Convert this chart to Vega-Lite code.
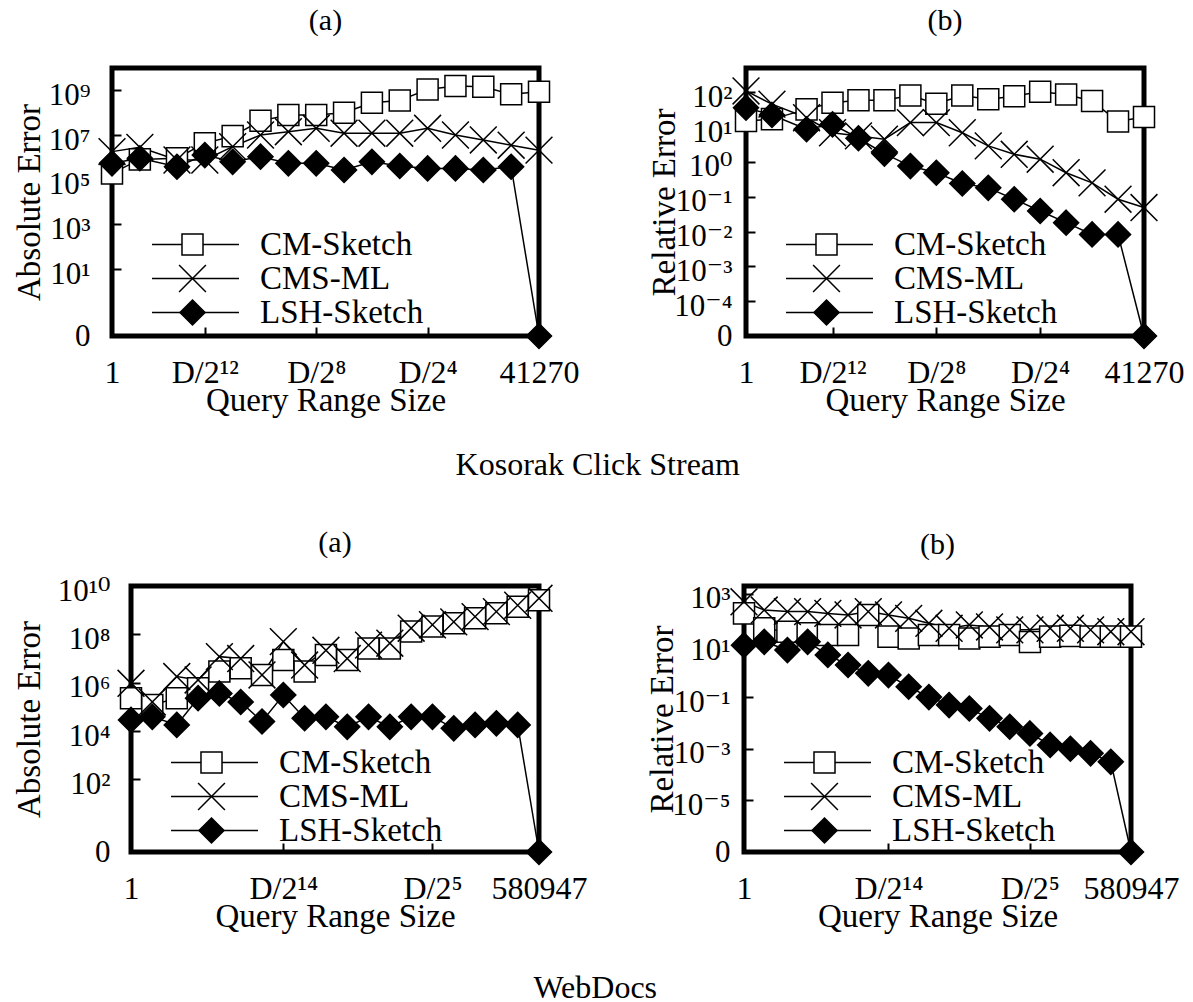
{
  "$schema": "https://vega.github.io/schema/vega-lite/v6.json",
  "background": "white",
  "padding": {"left": 9, "top": 3, "right": 5, "bottom": 0},
  "spacing": 44,
  "resolve": {"scale": {"color": "independent", "shape": "independent", "fill": "independent"}, "legend": {"color": "independent", "shape": "independent", "fill": "independent"}},
  "config": {
    "font": "Liberation Serif",
    "view": {"stroke": "black", "strokeWidth": 5},
    "axis": {
      "labelFont": "Liberation Serif, DejaVu Serif", "labelColor": "black",
      "titleFont": "Liberation Serif", "titleFontSize": 33, "titleFontWeight": "normal", "titleColor": "black",
      "tickColor": "black", "tickWidth": 2, "tickSize": -9,
      "domain": false, "grid": false, "labelFlush": false, "labelOverlap": false, "labelBound": false
    },
    "axisX": {"labelFontSize": 32, "labelBaseline": "alphabetic", "labelPadding": 55, "titleY": 74, "titleBaseline": "alphabetic"},
    "axisY": {"labelFontSize": 31, "labelBaseline": "middle", "titleAngle": -90, "titleBaseline": "alphabetic", "titleAlign": "center"},
    "legend": {"orient": "none", "direction": "vertical", "labelFont": "Liberation Serif", "labelFontSize": 33, "labelColor": "black", "labelLimit": 0, "rowPadding": 0, "padding": 0, "symbolStrokeWidth": 1.5},
    "title": {"font": "Liberation Serif", "fontSize": 30, "fontWeight": "normal", "color": "black", "anchor": "middle"}
  },
  "datasets": {
    "kosorakAbs": [
      {"method": "CM-Sketch", "size": 1, "error": 1.9e5},
      {"method": "CM-Sketch", "size": 2, "error": 8.1e5},
      {"method": "CM-Sketch", "size": 5.038, "error": 9.1e5},
      {"method": "CM-Sketch", "size": 10.076, "error": 4.3e6},
      {"method": "CM-Sketch", "size": 20.151, "error": 8.9e6},
      {"method": "CM-Sketch", "size": 40.303, "error": 4.3e7},
      {"method": "CM-Sketch", "size": 80.605, "error": 7.9e7},
      {"method": "CM-Sketch", "size": 161.21, "error": 7.9e7},
      {"method": "CM-Sketch", "size": 322.42, "error": 1.0e8},
      {"method": "CM-Sketch", "size": 644.84, "error": 2.8e8},
      {"method": "CM-Sketch", "size": 1289.69, "error": 3.5e8},
      {"method": "CM-Sketch", "size": 2579.38, "error": 1.1e9},
      {"method": "CM-Sketch", "size": 5158.75, "error": 1.55e9},
      {"method": "CM-Sketch", "size": 10317.5, "error": 1.45e9},
      {"method": "CM-Sketch", "size": 20635, "error": 6.6e8},
      {"method": "CM-Sketch", "size": 41270, "error": 8.7e8},
      {"method": "CMS-ML", "size": 1, "error": 1.8e6},
      {"method": "CMS-ML", "size": 2, "error": 2.8e6},
      {"method": "CMS-ML", "size": 5.038, "error": 7.6e5},
      {"method": "CMS-ML", "size": 10.076, "error": 7.6e5},
      {"method": "CMS-ML", "size": 20.151, "error": 3.0e6},
      {"method": "CMS-ML", "size": 40.303, "error": 1.0e7},
      {"method": "CMS-ML", "size": 80.605, "error": 1.4e7},
      {"method": "CMS-ML", "size": 161.21, "error": 2.0e7},
      {"method": "CMS-ML", "size": 322.42, "error": 1.2e7},
      {"method": "CMS-ML", "size": 644.84, "error": 1.2e7},
      {"method": "CMS-ML", "size": 1289.69, "error": 1.2e7},
      {"method": "CMS-ML", "size": 2579.38, "error": 2.0e7},
      {"method": "CMS-ML", "size": 5158.75, "error": 1.0e7},
      {"method": "CMS-ML", "size": 10317.5, "error": 6.0e6},
      {"method": "CMS-ML", "size": 20635, "error": 3.5e6},
      {"method": "CMS-ML", "size": 41270, "error": 2.1e6},
      {"method": "LSH-Sketch", "size": 1, "error": 5.4e5},
      {"method": "LSH-Sketch", "size": 2, "error": 9.1e5},
      {"method": "LSH-Sketch", "size": 5.038, "error": 3.8e5},
      {"method": "LSH-Sketch", "size": 10.076, "error": 1.26e6},
      {"method": "LSH-Sketch", "size": 20.151, "error": 6.3e5},
      {"method": "LSH-Sketch", "size": 40.303, "error": 1.07e6},
      {"method": "LSH-Sketch", "size": 80.605, "error": 5.4e5},
      {"method": "LSH-Sketch", "size": 161.21, "error": 5.4e5},
      {"method": "LSH-Sketch", "size": 322.42, "error": 2.7e5},
      {"method": "LSH-Sketch", "size": 644.84, "error": 6.3e5},
      {"method": "LSH-Sketch", "size": 1289.69, "error": 4.1e5},
      {"method": "LSH-Sketch", "size": 2579.38, "error": 3.2e5},
      {"method": "LSH-Sketch", "size": 5158.75, "error": 3.2e5},
      {"method": "LSH-Sketch", "size": 10317.5, "error": 2.7e5},
      {"method": "LSH-Sketch", "size": 20635, "error": 3.8e5},
      {"method": "LSH-Sketch", "size": 41270, "error": 0}
    ],
    "kosorakRel": [
      {"method": "CM-Sketch", "size": 1, "error": 15.1},
      {"method": "CM-Sketch", "size": 2, "error": 17.0},
      {"method": "CM-Sketch", "size": 5.038, "error": 32.4},
      {"method": "CM-Sketch", "size": 10.076, "error": 50.1},
      {"method": "CM-Sketch", "size": 20.151, "error": 58.9},
      {"method": "CM-Sketch", "size": 40.303, "error": 58.9},
      {"method": "CM-Sketch", "size": 80.605, "error": 81.3},
      {"method": "CM-Sketch", "size": 161.21, "error": 46.8},
      {"method": "CM-Sketch", "size": 322.42, "error": 81.3},
      {"method": "CM-Sketch", "size": 644.84, "error": 63.1},
      {"method": "CM-Sketch", "size": 1289.69, "error": 77.6},
      {"method": "CM-Sketch", "size": 2579.38, "error": 104.7},
      {"method": "CM-Sketch", "size": 5158.75, "error": 87.1},
      {"method": "CM-Sketch", "size": 10317.5, "error": 56.2},
      {"method": "CM-Sketch", "size": 20635, "error": 14.5},
      {"method": "CM-Sketch", "size": 41270, "error": 19.5},
      {"method": "CMS-ML", "size": 1, "error": 109.6},
      {"method": "CMS-ML", "size": 2, "error": 45.7},
      {"method": "CMS-ML", "size": 5.038, "error": 18.6},
      {"method": "CMS-ML", "size": 10.076, "error": 6.9},
      {"method": "CMS-ML", "size": 20.151, "error": 5.6},
      {"method": "CMS-ML", "size": 40.303, "error": 4.5},
      {"method": "CMS-ML", "size": 80.605, "error": 13.5},
      {"method": "CMS-ML", "size": 161.21, "error": 13.5},
      {"method": "CMS-ML", "size": 322.42, "error": 6.9},
      {"method": "CMS-ML", "size": 644.84, "error": 2.9},
      {"method": "CMS-ML", "size": 1289.69, "error": 1.66},
      {"method": "CMS-ML", "size": 2579.38, "error": 1.2},
      {"method": "CMS-ML", "size": 5158.75, "error": 0.49},
      {"method": "CMS-ML", "size": 10317.5, "error": 0.25},
      {"method": "CMS-ML", "size": 20635, "error": 0.085},
      {"method": "CMS-ML", "size": 41270, "error": 0.049},
      {"method": "LSH-Sketch", "size": 1, "error": 36.3},
      {"method": "LSH-Sketch", "size": 2, "error": 22.4},
      {"method": "LSH-Sketch", "size": 5.038, "error": 8.7},
      {"method": "LSH-Sketch", "size": 10.076, "error": 12.0},
      {"method": "LSH-Sketch", "size": 20.151, "error": 4.8},
      {"method": "LSH-Sketch", "size": 40.303, "error": 1.74},
      {"method": "LSH-Sketch", "size": 80.605, "error": 0.76},
      {"method": "LSH-Sketch", "size": 161.21, "error": 0.49},
      {"method": "LSH-Sketch", "size": 322.42, "error": 0.24},
      {"method": "LSH-Sketch", "size": 644.84, "error": 0.18},
      {"method": "LSH-Sketch", "size": 1289.69, "error": 0.085},
      {"method": "LSH-Sketch", "size": 2579.38, "error": 0.039},
      {"method": "LSH-Sketch", "size": 5158.75, "error": 0.018},
      {"method": "LSH-Sketch", "size": 10317.5, "error": 0.0083},
      {"method": "LSH-Sketch", "size": 20635, "error": 0.0083},
      {"method": "LSH-Sketch", "size": 41270, "error": 0}
    ],
    "webdocsAbs": [
      {"method": "CM-Sketch", "size": 1, "error": 2.3e5},
      {"method": "CM-Sketch", "size": 2, "error": 1.2e5},
      {"method": "CM-Sketch", "size": 4.432, "error": 2.3e5},
      {"method": "CM-Sketch", "size": 8.865, "error": 5.9e5},
      {"method": "CM-Sketch", "size": 17.73, "error": 2.9e6},
      {"method": "CM-Sketch", "size": 35.46, "error": 4.0e6},
      {"method": "CM-Sketch", "size": 70.92, "error": 2.1e6},
      {"method": "CM-Sketch", "size": 141.83, "error": 8.7e6},
      {"method": "CM-Sketch", "size": 283.67, "error": 2.9e6},
      {"method": "CM-Sketch", "size": 567.33, "error": 1.4e7},
      {"method": "CM-Sketch", "size": 1134.66, "error": 8.7e6},
      {"method": "CM-Sketch", "size": 2269.32, "error": 2.6e7},
      {"method": "CM-Sketch", "size": 4538.65, "error": 2.6e7},
      {"method": "CM-Sketch", "size": 9077.3, "error": 1.3e8},
      {"method": "CM-Sketch", "size": 18154.59, "error": 2.1e8},
      {"method": "CM-Sketch", "size": 36309.19, "error": 2.9e8},
      {"method": "CM-Sketch", "size": 72618.38, "error": 4.6e8},
      {"method": "CM-Sketch", "size": 145236.75, "error": 7.4e8},
      {"method": "CM-Sketch", "size": 290473.5, "error": 1.4e9},
      {"method": "CM-Sketch", "size": 580947, "error": 2.6e9},
      {"method": "CMS-ML", "size": 1, "error": 9.5e5},
      {"method": "CMS-ML", "size": 2, "error": 1.6e5},
      {"method": "CMS-ML", "size": 4.432, "error": 1.8e6},
      {"method": "CMS-ML", "size": 8.865, "error": 1.3e6},
      {"method": "CMS-ML", "size": 17.73, "error": 1.2e7},
      {"method": "CMS-ML", "size": 35.46, "error": 1.0e7},
      {"method": "CMS-ML", "size": 70.92, "error": 2.1e6},
      {"method": "CMS-ML", "size": 141.83, "error": 5.0e7},
      {"method": "CMS-ML", "size": 283.67, "error": 5.4e6},
      {"method": "CMS-ML", "size": 567.33, "error": 2.2e7},
      {"method": "CMS-ML", "size": 1134.66, "error": 1.0e7},
      {"method": "CMS-ML", "size": 2269.32, "error": 3.6e7},
      {"method": "CMS-ML", "size": 4538.65, "error": 4.3e7},
      {"method": "CMS-ML", "size": 9077.3, "error": 1.8e8},
      {"method": "CMS-ML", "size": 18154.59, "error": 2.5e8},
      {"method": "CMS-ML", "size": 36309.19, "error": 3.3e8},
      {"method": "CMS-ML", "size": 72618.38, "error": 5.4e8},
      {"method": "CMS-ML", "size": 145236.75, "error": 8.7e8},
      {"method": "CMS-ML", "size": 290473.5, "error": 1.6e9},
      {"method": "CMS-ML", "size": 580947, "error": 3.1e9},
      {"method": "LSH-Sketch", "size": 1, "error": 2.9e4},
      {"method": "LSH-Sketch", "size": 2, "error": 3.9e4},
      {"method": "LSH-Sketch", "size": 4.432, "error": 1.8e4},
      {"method": "LSH-Sketch", "size": 8.865, "error": 2.3e5},
      {"method": "LSH-Sketch", "size": 17.73, "error": 3.6e5},
      {"method": "LSH-Sketch", "size": 35.46, "error": 1.6e5},
      {"method": "LSH-Sketch", "size": 70.92, "error": 2.5e4},
      {"method": "LSH-Sketch", "size": 141.83, "error": 3.1e5},
      {"method": "LSH-Sketch", "size": 283.67, "error": 3.4e4},
      {"method": "LSH-Sketch", "size": 567.33, "error": 3.9e4},
      {"method": "LSH-Sketch", "size": 1134.66, "error": 1.5e4},
      {"method": "LSH-Sketch", "size": 2269.32, "error": 3.9e4},
      {"method": "LSH-Sketch", "size": 4538.65, "error": 1.5e4},
      {"method": "LSH-Sketch", "size": 9077.3, "error": 3.9e4},
      {"method": "LSH-Sketch", "size": 18154.59, "error": 3.9e4},
      {"method": "LSH-Sketch", "size": 36309.19, "error": 1.3e4},
      {"method": "LSH-Sketch", "size": 72618.38, "error": 1.8e4},
      {"method": "LSH-Sketch", "size": 145236.75, "error": 2.1e4},
      {"method": "LSH-Sketch", "size": 290473.5, "error": 1.8e4},
      {"method": "LSH-Sketch", "size": 580947, "error": 0}
    ],
    "webdocsRel": [
      {"method": "CM-Sketch", "size": 1, "error": 174},
      {"method": "CM-Sketch", "size": 2, "error": 45.7},
      {"method": "CM-Sketch", "size": 4.432, "error": 33.9},
      {"method": "CM-Sketch", "size": 8.865, "error": 29.5},
      {"method": "CM-Sketch", "size": 17.73, "error": 25.1},
      {"method": "CM-Sketch", "size": 35.46, "error": 25.1},
      {"method": "CM-Sketch", "size": 70.92, "error": 151},
      {"method": "CM-Sketch", "size": 141.83, "error": 21.9},
      {"method": "CM-Sketch", "size": 283.67, "error": 18.6},
      {"method": "CM-Sketch", "size": 567.33, "error": 25.1},
      {"method": "CM-Sketch", "size": 1134.66, "error": 25.1},
      {"method": "CM-Sketch", "size": 2269.32, "error": 18.6},
      {"method": "CM-Sketch", "size": 4538.65, "error": 21.9},
      {"method": "CM-Sketch", "size": 9077.3, "error": 25.1},
      {"method": "CM-Sketch", "size": 18154.59, "error": 13.5},
      {"method": "CM-Sketch", "size": 36309.19, "error": 21.9},
      {"method": "CM-Sketch", "size": 72618.38, "error": 23.4},
      {"method": "CM-Sketch", "size": 145236.75, "error": 21.9},
      {"method": "CM-Sketch", "size": 290473.5, "error": 21.9},
      {"method": "CM-Sketch", "size": 580947, "error": 21.9},
      {"method": "CMS-ML", "size": 1, "error": 490},
      {"method": "CMS-ML", "size": 2, "error": 234},
      {"method": "CMS-ML", "size": 4.432, "error": 204},
      {"method": "CMS-ML", "size": 8.865, "error": 204},
      {"method": "CMS-ML", "size": 17.73, "error": 174},
      {"method": "CMS-ML", "size": 35.46, "error": 151},
      {"method": "CMS-ML", "size": 70.92, "error": 204},
      {"method": "CMS-ML", "size": 141.83, "error": 151},
      {"method": "CMS-ML", "size": 283.67, "error": 112},
      {"method": "CMS-ML", "size": 567.33, "error": 72},
      {"method": "CMS-ML", "size": 1134.66, "error": 46},
      {"method": "CMS-ML", "size": 2269.32, "error": 62},
      {"method": "CMS-ML", "size": 4538.65, "error": 52},
      {"method": "CMS-ML", "size": 9077.3, "error": 40},
      {"method": "CMS-ML", "size": 18154.59, "error": 40},
      {"method": "CMS-ML", "size": 36309.19, "error": 46},
      {"method": "CMS-ML", "size": 72618.38, "error": 46},
      {"method": "CMS-ML", "size": 145236.75, "error": 40},
      {"method": "CMS-ML", "size": 290473.5, "error": 34},
      {"method": "CMS-ML", "size": 580947, "error": 34},
      {"method": "LSH-Sketch", "size": 1, "error": 10.2},
      {"method": "LSH-Sketch", "size": 2, "error": 13.8},
      {"method": "LSH-Sketch", "size": 4.432, "error": 6.6},
      {"method": "LSH-Sketch", "size": 8.865, "error": 13.8},
      {"method": "LSH-Sketch", "size": 17.73, "error": 4.3},
      {"method": "LSH-Sketch", "size": 35.46, "error": 1.74},
      {"method": "LSH-Sketch", "size": 70.92, "error": 0.83},
      {"method": "LSH-Sketch", "size": 141.83, "error": 0.71},
      {"method": "LSH-Sketch", "size": 283.67, "error": 0.25},
      {"method": "LSH-Sketch", "size": 567.33, "error": 0.10},
      {"method": "LSH-Sketch", "size": 1134.66, "error": 0.049},
      {"method": "LSH-Sketch", "size": 2269.32, "error": 0.036},
      {"method": "LSH-Sketch", "size": 4538.65, "error": 0.015},
      {"method": "LSH-Sketch", "size": 9077.3, "error": 0.0071},
      {"method": "LSH-Sketch", "size": 18154.59, "error": 0.0039},
      {"method": "LSH-Sketch", "size": 36309.19, "error": 0.0014},
      {"method": "LSH-Sketch", "size": 72618.38, "error": 0.001},
      {"method": "LSH-Sketch", "size": 145236.75, "error": 0.00066},
      {"method": "LSH-Sketch", "size": 290473.5, "error": 0.00031},
      {"method": "LSH-Sketch", "size": 580947, "error": 0}
    ]
  },
  "vconcat": [
    {
      "title": {"text": "Kosorak Click Stream", "orient": "bottom", "baseline": "top", "offset": 30, "fontSize": 32, "frame": "bounds"},
      "spacing": 63,
      "resolve": {"scale": {"color": "independent", "shape": "independent", "fill": "independent"}, "legend": {"color": "independent", "shape": "independent", "fill": "independent"}},
      "hconcat": [
        {
          "spacing": 0,
          "resolve": {"scale": {"color": "independent", "shape": "independent", "fill": "independent"}, "legend": {"color": "independent", "shape": "independent", "fill": "independent"}},
          "hconcat": [
            {"width": 1, "height": 1, "view": {"stroke": null, "fill": null}, "data": {"values": []}, "mark": "point"},
            {
              "width": 427, "height": 268,
              "title": {"text": "(a)", "baseline": "alphabetic", "offset": 8},
              "data": {"name": "kosorakAbs"},
              "transform": [{"calculate": "datum.error > 0 ? datum.error : 0.01", "as": "shown"}],
              "encoding": {
                "x": {"field": "size", "type": "quantitative",
                      "scale": {"type": "log", "base": 2, "domain": [1, 41270], "nice": false},
                      "axis": {"title": "Query Range Size", "values": [1, 10.076171875, 161.21875, 2579.375, 41270],
                               "labelExpr": "datum.value < 1.5 ? '1' : datum.value < 50 ? 'D/2¹²' : datum.value < 1000 ? 'D/2⁸' : datum.value < 10000 ? 'D/2⁴' : '41270'"}},
                "y": {"field": "shown", "type": "quantitative",
                      "scale": {"type": "log", "domain": [0.01, 1e10], "nice": false},
                      "axis": {"title": "Absolute Error", "titleX": -73, "labelPadding": 31,
                               "values": [0.01, 10, 1000, 100000, 10000000, 1000000000],
                               "labelOffset": {"condition": {"test": "datum.value < 0.05", "value": 0}, "value": 5},
                               "labelExpr": "datum.value < 0.05 ? '0' : datum.value < 50 ? '10¹' : datum.value < 5000 ? '10³' : datum.value < 500000 ? '10⁵' : datum.value < 50000000 ? '10⁷' : '10⁹'"}}
              },
              "layer": [
                {"mark": {"type": "line", "strokeWidth": 1.5},
                 "encoding": {"color": {"field": "method", "type": "nominal", "scale": {"range": ["black", "black", "black"]},
                                        "legend": {"title": null, "orient": "none", "legendX": 67, "legendY": 160, "symbolType": "M-6,0H6", "symbolSize": 210, "labelOpacity": 0}}}},
                {"mark": {"type": "point", "filled": true, "opacity": 1, "size": 500, "stroke": "black", "strokeWidth": 1.5},
                 "encoding": {
                   "shape": {"field": "method", "type": "nominal",
                             "scale": {"domain": ["CM-Sketch", "CMS-ML", "LSH-Sketch"], "range": ["M-0.94,-0.94H0.94V0.94H-0.94Z", "M-1.2,-1.2L1.2,1.2M-1.2,1.2L1.2,-1.2", "M0,-1.12L1.12,0L0,1.12L-1.12,0Z"]},
                             "legend": {"title": null, "orient": "none", "legendX": 64, "legendY": 160, "labelOffset": 51, "symbolSize": 500, "encode": {"symbols": {"update": {"stroke": {"value": "black"}, "strokeWidth": {"value": 1.5}}}}}},
                   "fill": {"field": "method", "type": "nominal",
                            "scale": {"domain": ["CM-Sketch", "CMS-ML", "LSH-Sketch"], "range": ["white", "transparent", "black"]},
                            "legend": {"title": null, "orient": "none", "legendX": 64, "legendY": 160, "labelOffset": 51, "symbolSize": 500, "encode": {"symbols": {"update": {"stroke": {"value": "black"}, "strokeWidth": {"value": 1.5}}}}}}
                 }}
              ]
            }
          ]
        },
        {
          "width": 398, "height": 268,
          "title": {"text": "(b)", "baseline": "alphabetic", "offset": 8},
          "data": {"name": "kosorakRel"},
          "transform": [{"calculate": "datum.error > 0 ? datum.error : 0.00001", "as": "shown"}],
          "encoding": {
            "x": {"field": "size", "type": "quantitative",
                  "scale": {"type": "log", "base": 2, "domain": [1, 41270], "nice": false},
                  "axis": {"title": "Query Range Size", "values": [1, 10.076171875, 161.21875, 2579.375, 41270],
                           "labelExpr": "datum.value < 1.5 ? '1' : datum.value < 50 ? 'D/2¹²' : datum.value < 1000 ? 'D/2⁸' : datum.value < 10000 ? 'D/2⁴' : '41270'"}},
            "y": {"field": "shown", "type": "quantitative",
                  "scale": {"type": "log", "domain": [0.00001, 500], "nice": false},
                  "axis": {"title": "Relative Error", "titleX": -72, "labelPadding": 23,
                           "values": [0.00001, 0.0001, 0.001, 0.01, 0.1, 1, 10, 100],
                           "labelOffset": {"condition": {"test": "datum.value < 0.00005", "value": 0}, "value": 5},
                           "labelExpr": "datum.value < 0.00005 ? '0' : datum.value < 0.0005 ? '10⁻⁴' : datum.value < 0.005 ? '10⁻³' : datum.value < 0.05 ? '10⁻²' : datum.value < 0.5 ? '10⁻¹' : datum.value < 5 ? '10⁰' : datum.value < 50 ? '10¹' : '10²'"}}
          },
          "layer": [
            {"mark": {"type": "line", "strokeWidth": 1.5},
             "encoding": {"color": {"field": "method", "type": "nominal", "scale": {"range": ["black", "black", "black"]},
                                    "legend": {"title": null, "orient": "none", "legendX": 67, "legendY": 160, "symbolType": "M-6,0H6", "symbolSize": 210, "labelOpacity": 0}}}},
            {"mark": {"type": "point", "filled": true, "opacity": 1, "size": 500, "stroke": "black", "strokeWidth": 1.5},
             "encoding": {
               "shape": {"field": "method", "type": "nominal",
                         "scale": {"domain": ["CM-Sketch", "CMS-ML", "LSH-Sketch"], "range": ["M-0.94,-0.94H0.94V0.94H-0.94Z", "M-1.2,-1.2L1.2,1.2M-1.2,1.2L1.2,-1.2", "M0,-1.12L1.12,0L0,1.12L-1.12,0Z"]},
                         "legend": {"title": null, "orient": "none", "legendX": 64, "legendY": 160, "labelOffset": 51, "symbolSize": 500, "encode": {"symbols": {"update": {"stroke": {"value": "black"}, "strokeWidth": {"value": 1.5}}}}}},
               "fill": {"field": "method", "type": "nominal",
                        "scale": {"domain": ["CM-Sketch", "CMS-ML", "LSH-Sketch"], "range": ["white", "transparent", "black"]},
                        "legend": {"title": null, "orient": "none", "legendX": 64, "legendY": 160, "labelOffset": 51, "symbolSize": 500, "encode": {"symbols": {"update": {"stroke": {"value": "black"}, "strokeWidth": {"value": 1.5}}}}}}
             }}
          ]
        }
      ]
    },
    {
      "title": {"text": "WebDocs", "orient": "bottom", "baseline": "top", "offset": 37, "fontSize": 32, "frame": "bounds"},
      "spacing": 53,
      "resolve": {"scale": {"color": "independent", "shape": "independent", "fill": "independent"}, "legend": {"color": "independent", "shape": "independent", "fill": "independent"}},
      "hconcat": [
        {
          "spacing": 0,
          "resolve": {"scale": {"color": "independent", "shape": "independent", "fill": "independent"}, "legend": {"color": "independent", "shape": "independent", "fill": "independent"}},
          "hconcat": [
            {"width": 1, "height": 1, "view": {"stroke": null, "fill": null}, "data": {"values": []}, "mark": "point"},
            {
              "width": 408, "height": 266,
              "title": {"text": "(a)", "baseline": "alphabetic", "offset": -7},
              "data": {"name": "webdocsAbs"},
              "transform": [{"calculate": "datum.error > 0 ? datum.error : 0.1", "as": "shown"}],
              "encoding": {
                "x": {"field": "size", "type": "quantitative",
                      "scale": {"type": "log", "base": 2, "domain": [1, 580947], "nice": false},
                      "axis": {"title": "Query Range Size", "values": [1, 141.833740234375, 18154.59375, 580947],
                               "labelExpr": "datum.value < 1.5 ? '1' : datum.value < 1000 ? 'D/2¹⁴' : datum.value < 100000 ? 'D/2⁵' : '580947'"}},
                "y": {"field": "shown", "type": "quantitative",
                      "scale": {"type": "log", "domain": [0.1, 1e10], "nice": false},
                      "axis": {"title": "Absolute Error", "titleX": -92, "labelPadding": 30,
                               "values": [0.1, 100, 10000, 1000000, 100000000, 10000000000],
                               "labelOffset": {"condition": {"test": "datum.value < 0.5", "value": 0}, "value": 5},
                               "labelExpr": "datum.value < 0.5 ? '0' : datum.value < 1000 ? '10²' : datum.value < 100000 ? '10⁴' : datum.value < 10000000 ? '10⁶' : datum.value < 1000000000 ? '10⁸' : '10¹⁰'"}}
              },
              "layer": [
                {"mark": {"type": "line", "strokeWidth": 1.5},
                 "encoding": {"color": {"field": "method", "type": "nominal", "scale": {"range": ["black", "black", "black"]},
                                        "legend": {"title": null, "orient": "none", "legendX": 67, "legendY": 160, "symbolType": "M-6,0H6", "symbolSize": 210, "labelOpacity": 0}}}},
                {"mark": {"type": "point", "filled": true, "opacity": 1, "size": 500, "stroke": "black", "strokeWidth": 1.5},
                 "encoding": {
                   "shape": {"field": "method", "type": "nominal",
                             "scale": {"domain": ["CM-Sketch", "CMS-ML", "LSH-Sketch"], "range": ["M-0.94,-0.94H0.94V0.94H-0.94Z", "M-1.2,-1.2L1.2,1.2M-1.2,1.2L1.2,-1.2", "M0,-1.12L1.12,0L0,1.12L-1.12,0Z"]},
                             "legend": {"title": null, "orient": "none", "legendX": 64, "legendY": 160, "labelOffset": 51, "symbolSize": 500, "encode": {"symbols": {"update": {"stroke": {"value": "black"}, "strokeWidth": {"value": 1.5}}}}}},
                   "fill": {"field": "method", "type": "nominal",
                            "scale": {"domain": ["CM-Sketch", "CMS-ML", "LSH-Sketch"], "range": ["white", "transparent", "black"]},
                            "legend": {"title": null, "orient": "none", "legendX": 64, "legendY": 160, "labelOffset": 51, "symbolSize": 500, "encode": {"symbols": {"update": {"stroke": {"value": "black"}, "strokeWidth": {"value": 1.5}}}}}}
                 }}
              ]
            }
          ]
        },
        {
          "width": 387, "height": 266,
          "title": {"text": "(b)", "baseline": "alphabetic", "offset": -1},
          "data": {"name": "webdocsRel"},
          "transform": [{"calculate": "datum.error > 0 ? datum.error : 0.0000001", "as": "shown"}],
          "encoding": {
            "x": {"field": "size", "type": "quantitative",
                  "scale": {"type": "log", "base": 2, "domain": [1, 580947], "nice": false},
                  "axis": {"title": "Query Range Size", "values": [1, 141.833740234375, 18154.59375, 580947],
                           "labelExpr": "datum.value < 1.5 ? '1' : datum.value < 1000 ? 'D/2¹⁴' : datum.value < 100000 ? 'D/2⁵' : '580947'"}},
            "y": {"field": "shown", "type": "quantitative",
                  "scale": {"type": "log", "domain": [0.0000001, 2000], "nice": false},
                  "axis": {"title": "Relative Error", "titleX": -72, "labelPadding": 23,
                           "values": [0.0000001, 0.00001, 0.001, 0.1, 10, 1000],
                           "labelOffset": {"condition": {"test": "datum.value < 0.000001", "value": 0}, "value": 5},
                           "labelExpr": "datum.value < 0.000001 ? '0' : datum.value < 0.0001 ? '10⁻⁵' : datum.value < 0.01 ? '10⁻³' : datum.value < 1 ? '10⁻¹' : datum.value < 100 ? '10¹' : '10³'"}}
          },
          "layer": [
            {"mark": {"type": "line", "strokeWidth": 1.5},
             "encoding": {"color": {"field": "method", "type": "nominal", "scale": {"range": ["black", "black", "black"]},
                                    "legend": {"title": null, "orient": "none", "legendX": 67, "legendY": 160, "symbolType": "M-6,0H6", "symbolSize": 210, "labelOpacity": 0}}}},
            {"mark": {"type": "point", "filled": true, "opacity": 1, "size": 500, "stroke": "black", "strokeWidth": 1.5},
             "encoding": {
               "shape": {"field": "method", "type": "nominal",
                         "scale": {"domain": ["CM-Sketch", "CMS-ML", "LSH-Sketch"], "range": ["M-0.94,-0.94H0.94V0.94H-0.94Z", "M-1.2,-1.2L1.2,1.2M-1.2,1.2L1.2,-1.2", "M0,-1.12L1.12,0L0,1.12L-1.12,0Z"]},
                         "legend": {"title": null, "orient": "none", "legendX": 64, "legendY": 160, "labelOffset": 51, "symbolSize": 500, "encode": {"symbols": {"update": {"stroke": {"value": "black"}, "strokeWidth": {"value": 1.5}}}}}},
               "fill": {"field": "method", "type": "nominal",
                        "scale": {"domain": ["CM-Sketch", "CMS-ML", "LSH-Sketch"], "range": ["white", "transparent", "black"]},
                        "legend": {"title": null, "orient": "none", "legendX": 64, "legendY": 160, "labelOffset": 51, "symbolSize": 500, "encode": {"symbols": {"update": {"stroke": {"value": "black"}, "strokeWidth": {"value": 1.5}}}}}}
             }}
          ]
        }
      ]
    }
  ]
}
